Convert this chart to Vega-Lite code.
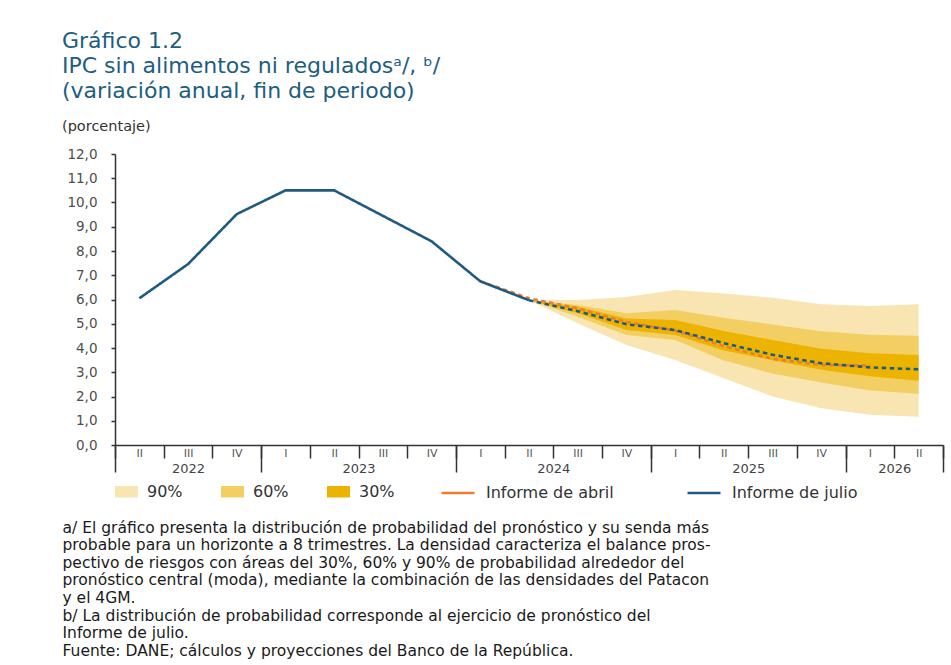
{
  "$schema": "https://vega.github.io/schema/vega-lite/v6.json",
  "width": 828,
  "height": 291,
  "autosize": {"type": "none"},
  "padding": {"left": 115, "top": 154, "right": 8, "bottom": 220},
  "background": "white",
  "config": {
    "view": {"stroke": null},
    "font": "DejaVu Sans",
    "axis": {"labelFont": "DejaVu Sans", "titleFont": "DejaVu Sans", "grid": false}
  },
  "title": {
    "text": ["Gráfico 1.2", "IPC sin alimentos ni reguladosᵃ/, ᵇ/", "(variación anual, fin de periodo)"],
    "subtitle": "(porcentaje)",
    "anchor": "start",
    "frame": "group",
    "dx": -53,
    "offset": 13,
    "font": "DejaVu Sans",
    "fontSize": 22,
    "fontWeight": "normal",
    "color": "#1d5e80",
    "lineHeight": 25,
    "subtitleFont": "DejaVu Sans",
    "subtitleFontSize": 14.5,
    "subtitleColor": "#333333",
    "subtitlePadding": 17
  },
  "datasets": {
    "fan": [
      {"t": 8.5, "banda": "90%", "inf": 5.97, "sup": 5.97},
      {"t": 9.5, "banda": "90%", "inf": 5.02, "sup": 5.98},
      {"t": 10.5, "banda": "90%", "inf": 4.12, "sup": 6.10},
      {"t": 11.5, "banda": "90%", "inf": 3.51, "sup": 6.39},
      {"t": 12.5, "banda": "90%", "inf": 2.75, "sup": 6.25},
      {"t": 13.5, "banda": "90%", "inf": 2.00, "sup": 6.07},
      {"t": 14.5, "banda": "90%", "inf": 1.52, "sup": 5.80},
      {"t": 15.5, "banda": "90%", "inf": 1.25, "sup": 5.73},
      {"t": 16.5, "banda": "90%", "inf": 1.17, "sup": 5.80},
      {"t": 8.5, "banda": "60%", "inf": 5.97, "sup": 5.97},
      {"t": 9.5, "banda": "60%", "inf": 5.29, "sup": 5.77},
      {"t": 10.5, "banda": "60%", "inf": 4.54, "sup": 5.43},
      {"t": 11.5, "banda": "60%", "inf": 4.33, "sup": 5.57},
      {"t": 12.5, "banda": "60%", "inf": 3.48, "sup": 5.25},
      {"t": 13.5, "banda": "60%", "inf": 2.95, "sup": 4.97},
      {"t": 14.5, "banda": "60%", "inf": 2.58, "sup": 4.69},
      {"t": 15.5, "banda": "60%", "inf": 2.25, "sup": 4.55},
      {"t": 16.5, "banda": "60%", "inf": 2.11, "sup": 4.51},
      {"t": 8.5, "banda": "30%", "inf": 5.97, "sup": 5.97},
      {"t": 9.5, "banda": "30%", "inf": 5.43, "sup": 5.70},
      {"t": 10.5, "banda": "30%", "inf": 4.74, "sup": 5.22},
      {"t": 11.5, "banda": "30%", "inf": 4.54, "sup": 5.15},
      {"t": 12.5, "banda": "30%", "inf": 3.90, "sup": 4.70},
      {"t": 13.5, "banda": "30%", "inf": 3.50, "sup": 4.33},
      {"t": 14.5, "banda": "30%", "inf": 3.10, "sup": 3.97},
      {"t": 15.5, "banda": "30%", "inf": 2.84, "sup": 3.78},
      {"t": 16.5, "banda": "30%", "inf": 2.65, "sup": 3.71}
    ],
    "lineas": [
      {"t": 7.5, "serie": "Informe de abril", "tramo": "proy", "v": 6.75},
      {"t": 8.5, "serie": "Informe de abril", "tramo": "proy", "v": 6.05},
      {"t": 9.5, "serie": "Informe de abril", "tramo": "proy", "v": 5.64},
      {"t": 10.5, "serie": "Informe de abril", "tramo": "proy", "v": 5.07},
      {"t": 11.5, "serie": "Informe de abril", "tramo": "proy", "v": 4.72},
      {"t": 12.5, "serie": "Informe de abril", "tramo": "proy", "v": 4.08},
      {"t": 13.5, "serie": "Informe de abril", "tramo": "proy", "v": 3.55},
      {"t": 14.5, "serie": "Informe de abril", "tramo": "proy", "v": 3.30},
      {"t": 15.5, "serie": "Informe de abril", "tramo": "proy", "v": 3.28},
      {"t": 0.5, "serie": "Informe de julio", "tramo": "hist", "v": 6.05},
      {"t": 1.5, "serie": "Informe de julio", "tramo": "hist", "v": 7.46},
      {"t": 2.5, "serie": "Informe de julio", "tramo": "hist", "v": 9.52},
      {"t": 3.5, "serie": "Informe de julio", "tramo": "hist", "v": 10.5},
      {"t": 4.5, "serie": "Informe de julio", "tramo": "hist", "v": 10.5},
      {"t": 5.5, "serie": "Informe de julio", "tramo": "hist", "v": 9.45},
      {"t": 6.5, "serie": "Informe de julio", "tramo": "hist", "v": 8.4},
      {"t": 7.5, "serie": "Informe de julio", "tramo": "hist", "v": 6.75},
      {"t": 8.5, "serie": "Informe de julio", "tramo": "hist", "v": 5.97},
      {"t": 8.5, "serie": "Informe de julio", "tramo": "proy", "v": 5.97},
      {"t": 9.5, "serie": "Informe de julio", "tramo": "proy", "v": 5.52},
      {"t": 10.5, "serie": "Informe de julio", "tramo": "proy", "v": 4.98},
      {"t": 11.5, "serie": "Informe de julio", "tramo": "proy", "v": 4.74},
      {"t": 12.5, "serie": "Informe de julio", "tramo": "proy", "v": 4.20},
      {"t": 13.5, "serie": "Informe de julio", "tramo": "proy", "v": 3.72},
      {"t": 14.5, "serie": "Informe de julio", "tramo": "proy", "v": 3.37},
      {"t": 15.5, "serie": "Informe de julio", "tramo": "proy", "v": 3.20},
      {"t": 16.5, "serie": "Informe de julio", "tramo": "proy", "v": 3.12}
    ]
  },
  "resolve": {"axis": {"x": "independent", "y": "independent"}},
  "layer": [
    {
      "data": {"name": "fan"},
      "transform": [{"filter": "datum.banda === '90%'"}],
      "mark": {"type": "area"},
      "encoding": {
        "x": {
          "field": "t", "type": "quantitative",
          "scale": {"domain": [0, 17], "nice": false, "zero": false},
          "axis": {
            "orient": "bottom", "title": null,
            "values": [0,1,2,3,4,5,6,7,8,9,10,11,12,13,14,15,16,17],
            "labels": false, "domain": true, "domainColor": "#333333", "domainWidth": 1.5,
            "ticks": true, "tickSize": 13, "tickWidth": 1.5, "tickColor": "#333333"
          }
        },
        "y": {
          "field": "inf", "type": "quantitative",
          "scale": {"domain": [0, 12], "nice": false, "zero": true},
          "axis": {
            "orient": "left",
            "title": null,
            "values": [0,1,2,3,4,5,6,7,8,9,10,11,12],
            "labelExpr": "replace(format(datum.value, '.1f'), '.', ',')",
            "labelFontSize": 13.5, "labelColor": "#4d4d4d", "labelPadding": 14,
            "ticks": true, "tickSize": 4, "tickWidth": 1.5, "tickColor": "#333333",
            "domain": true, "domainColor": "#333333", "domainWidth": 1.5
          }
        },
        "y2": {"field": "sup"},
        "fill": {
          "field": "banda", "type": "nominal",
          "scale": {"domain": ["90%", "60%", "30%"], "range": ["#f8e5b2", "#f3cf63", "#ecb300"]},
          "legend": {
            "title": null, "orient": "none", "legendX": 0, "legendY": 326,
            "direction": "horizontal", "columns": 3, "columnPadding": 38,
            "symbolType": "M-1,-0.5H1V0.5H-1Z", "symbolSize": 529, "symbolStrokeWidth": 0,
            "symbolOpacity": 1,
            "labelFont": "DejaVu Sans", "labelFontSize": 16, "labelColor": "#333333", "labelOffset": 9,
            "padding": 0
          }
        }
      }
    },
    {
      "data": {"name": "fan"},
      "transform": [{"filter": "datum.banda === '60%'"}],
      "mark": {"type": "area"},
      "encoding": {
        "x": {
          "field": "t", "type": "quantitative",
          "axis": {
            "orient": "bottom", "title": null,
            "values": [0.5,1.5,2.5,3.5,4.5,5.5,6.5,7.5,8.5,9.5,10.5,11.5,12.5,13.5,14.5,15.5,16.5],
            "labelExpr": "['II','III','IV','I','II','III','IV','I','II','III','IV','I','II','III','IV','I','II'][floor(datum.value)]",
            "domain": false, "ticks": false, "tickSize": 0,
            "labelFontSize": 11, "labelColor": "#555555", "labelPadding": 8, "labelBaseline": "middle"
          }
        },
        "y": {"field": "inf", "type": "quantitative", "axis": null},
        "y2": {"field": "sup"},
        "fill": {"field": "banda", "type": "nominal"}
      }
    },
    {
      "data": {"name": "fan"},
      "transform": [{"filter": "datum.banda === '30%'"}],
      "mark": {"type": "area"},
      "encoding": {
        "x": {
          "field": "t", "type": "quantitative",
          "axis": {
            "orient": "bottom",
            "values": [0, 3, 7, 11, 15, 17],
            "labels": false, "domain": false,
            "ticks": true, "tickSize": 27, "tickWidth": 1.5, "tickColor": "#333333",
            "title": [
              "a/ El gráfico presenta la distribución de probabilidad del pronóstico y su senda más",
              "probable para un horizonte a 8 trimestres. La densidad caracteriza el balance pros-",
              "pectivo de riesgos con áreas del 30%, 60% y 90% de probabilidad alrededor del",
              "pronóstico central (moda), mediante la combinación de las densidades del Patacon",
              "y el 4GM.",
              "b/ La distribución de probabilidad corresponde al ejercicio de pronóstico del",
              "Informe de julio.",
              "Fuente: DANE; cálculos y proyecciones del Banco de la República."
            ],
            "titleFont": "DejaVu Sans", "titleFontSize": 15.5, "titleFontWeight": "normal",
            "titleColor": "#1a1a1a", "titleLineHeight": 17.6,
            "titleAlign": "left", "titleAnchor": "start", "titleBaseline": "top",
            "titleX": -53, "titleY": 75
          }
        },
        "y": {"field": "inf", "type": "quantitative", "axis": null},
        "y2": {"field": "sup"},
        "fill": {"field": "banda", "type": "nominal"}
      }
    },
    {
      "data": {"name": "lineas"},
      "mark": {"type": "line", "strokeWidth": 2.6},
      "encoding": {
        "x": {
          "field": "t", "type": "quantitative",
          "axis": {
            "orient": "bottom", "title": null,
            "values": [1.5, 5, 9, 13, 16],
            "labelExpr": "datum.value < 3 ? '2022' : datum.value < 7 ? '2023' : datum.value < 11 ? '2024' : datum.value < 15 ? '2025' : '2026'",
            "domain": false, "ticks": false, "tickSize": 0,
            "labelFontSize": 13, "labelColor": "#444444", "labelPadding": 23, "labelBaseline": "middle"
          }
        },
        "y": {"field": "v", "type": "quantitative", "axis": null},
        "stroke": {
          "field": "serie", "type": "nominal",
          "scale": {"domain": ["Informe de abril", "Informe de julio"], "range": ["#ee7d2e", "#1f5b80"]},
          "legend": {
            "title": null, "orient": "none", "legendX": 325, "legendY": 321,
            "direction": "horizontal", "columns": 2, "columnPadding": 68,
            "symbolType": "stroke", "symbolSize": 1089, "symbolStrokeWidth": 2.5, "symbolDash": [1, 0],
            "labelFont": "DejaVu Sans", "labelFontSize": 16, "labelColor": "#333333", "labelOffset": 10,
            "padding": 0
          }
        },
        "strokeDash": {
          "field": "tramo", "type": "nominal",
          "scale": {"domain": ["hist", "proy"], "range": [[1, 0], [4.5, 3.5]]},
          "legend": null
        }
      }
    }
  ]
}
